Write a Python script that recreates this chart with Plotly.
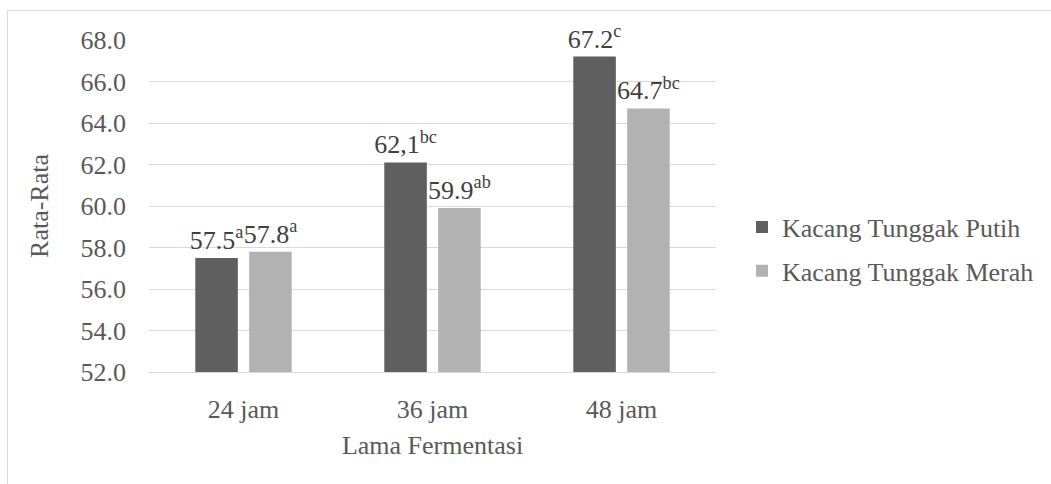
import plotly.graph_objects as go

# Fermentation durations (x categories)
categories = ["24 jam", "36 jam", "48 jam"]

# Mean values per cowpea type
putih_values = [57.5, 62.1, 67.2]
merah_values = [57.8, 59.9, 64.7]

# Significance letters shown as superscripts
putih_letters = ["a", "bc", "c"]
merah_letters = ["a", "ab", "bc"]

# 36 jam label for putih is printed with a decimal comma
putih_value_text = ["57.5", "62,1", "67.2"]
merah_value_text = ["57.8", "59.9", "64.7"]

y_ticks = [52, 54, 56, 58, 60, 62, 64, 66, 68]

FONT = "Liberation Serif"
TEXT_COLOR = "#595959"
GRID_COLOR = "#d9d9d9"

W, H = 1051, 484
ML, MR, MT, MB = 149, 335, 40, 112


def label(values, letters):
    return [f"{v}<sup>{s}</sup>" for v, s in zip(values, letters)]


fig = go.Figure()
fig.add_trace(go.Bar(
    x=categories, y=putih_values, name="Kacang Tunggak Putih",
    marker=dict(color="#5f5f5f", line=dict(width=0)),
    text=label(putih_value_text, putih_letters),
    textposition="outside", constraintext="none", cliponaxis=False,
    textfont=dict(family=FONT, size=26, color="#404040"),
    legendgroup="p",
))
fig.add_trace(go.Bar(
    x=categories, y=merah_values, name="Kacang Tunggak Merah",
    marker=dict(color="#b2b2b2", line=dict(width=0)),
    text=label(merah_value_text, merah_letters),
    textposition="outside", constraintext="none", cliponaxis=False,
    textfont=dict(family=FONT, size=26, color="#404040"),
    legendgroup="m",
))

plot_w = W - ML - MR
plot_h = H - MT - MB

fig.update_layout(
    width=W, height=H,
    margin=dict(l=ML, r=MR, t=MT, b=MB, pad=0),
    paper_bgcolor="white", plot_bgcolor="white",
    font=dict(family=FONT, size=26, color=TEXT_COLOR),
    barmode="group", bargap=0.43, bargroupgap=0.21,
    showlegend=True,
    legend=dict(
        x=(742 - ML) / plot_w, y=(372 - 249) / plot_h,
        xanchor="left", yanchor="middle",
        font=dict(family=FONT, size=26, color=TEXT_COLOR),
        traceorder="grouped", tracegroupgap=7,
        bgcolor="rgba(0,0,0,0)", itemwidth=30,
    ),
    xaxis=dict(
        showgrid=False, showline=True, linecolor=GRID_COLOR, linewidth=1,
        ticks="", ticklabelstandoff=14,
        tickfont=dict(family=FONT, size=26, color=TEXT_COLOR),
        title=dict(text="Lama Fermentasi", standoff=12,
                   font=dict(family=FONT, size=26, color=TEXT_COLOR)),
    ),
    yaxis=dict(
        range=[52, 68], tickvals=y_ticks, tickformat=".1f",
        showgrid=True, gridcolor=GRID_COLOR, gridwidth=1,
        zeroline=False, showline=False, ticks="",
        ticklabelstandoff=22,
        tickfont=dict(family=FONT, size=26, color=TEXT_COLOR),
        title=dict(text="Rata-Rata", standoff=24,
                   font=dict(family=FONT, size=26, color=TEXT_COLOR)),
    ),
    shapes=[dict(
        type="rect", xref="paper", yref="paper",
        x0=(7.5 - ML) / plot_w, x1=2.0,
        y0=-1.0, y1=(H - MB - 10.5) / plot_h,
        line=dict(color=GRID_COLOR, width=1), fillcolor="rgba(0,0,0,0)",
        layer="below",
    )],
)

fig.write_html("out.html")
